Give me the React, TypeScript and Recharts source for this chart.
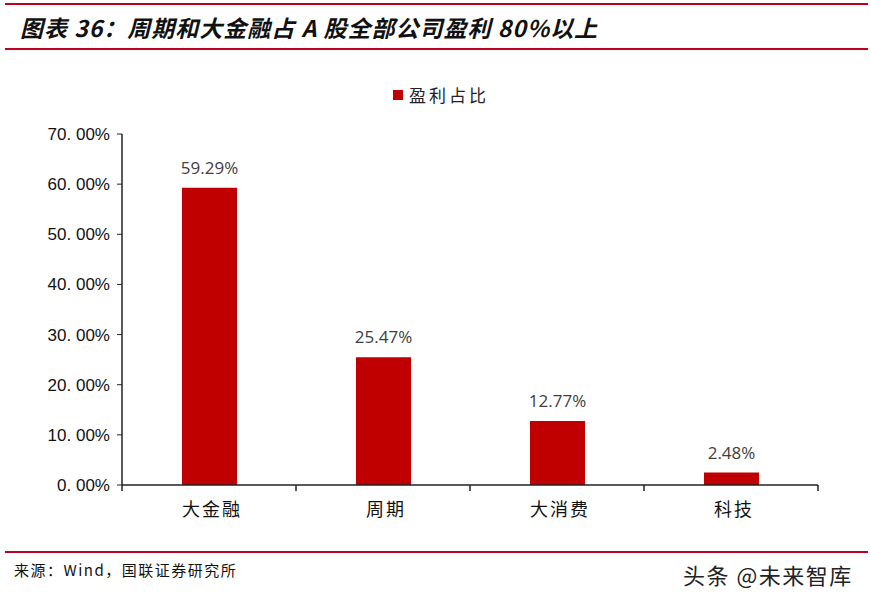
import { Bar, BarChart, LabelList, XAxis, YAxis } from 'recharts';

const CATEGORIES = ['大金融', '周期', '大消费', '科技'];
const SHARE = [59.29, 25.47, 12.77, 2.48];
const Y_TICKS = [0, 10, 20, 30, 40, 50, 60, 70];

const RED = '#C00000';
const LINE_RED = '#C0001F';
const CJK = '"Noto Sans CJK SC", "Noto Sans", sans-serif';

const data = CATEGORIES.map((name, i) => ({ name, share: SHARE[i] }));

const fmtAxis = (v: number) => `${v.toFixed(2).replace('.', '. ')}%`;

export default function App() {
  return (
    <div style={{ position: 'absolute', left: 0, top: 0, width: 870, height: 601, background: '#fff', overflow: 'hidden' }}>
      <div style={{ position: 'absolute', left: 5, top: 3, width: 863, height: 2, background: LINE_RED }} />
      <div
        style={{
          position: 'absolute', left: 20, top: 11, fontFamily: CJK, fontStyle: 'italic',
          fontWeight: 'bold', fontSize: 23, lineHeight: '32px', color: '#111', letterSpacing: 1,
        }}
      >
        图表 36：周期和大金融占 A 股全部公司盈利 80%以上
      </div>
      <div style={{ position: 'absolute', left: 5, top: 48, width: 863, height: 2, background: LINE_RED }} />

      {/* legend */}
      <div
        style={{
          position: 'absolute', left: 393, top: 83, display: 'flex', alignItems: 'center',
          fontFamily: CJK, fontSize: 17, lineHeight: '24px', color: '#222',
        }}
      >
        <span style={{ width: 10, height: 10, background: RED, display: 'inline-block', marginRight: 6 }} />
        <span style={{ letterSpacing: 3 }}>盈利占比</span>
      </div>

      <BarChart
        width={870}
        height={601}
        data={data}
        margin={{ top: 134, right: 52, bottom: 76, left: 12 }}
        barSize={55}
      >
        <YAxis
          width={110}
          domain={[0, 70]}
          ticks={Y_TICKS}
          tickFormatter={fmtAxis}
          axisLine={{ stroke: '#222', strokeWidth: 1.5 }}
          tickLine={{ stroke: '#222' }}
          tickSize={5}
          tickMargin={7}
          tick={{ fill: '#111', fontSize: 17, fontFamily: '"Liberation Sans", Arial, sans-serif' }}
        />
        <XAxis
          dataKey="name"
          height={40}
          axisLine={{ stroke: '#222', strokeWidth: 1.5 }}
          tickLine={false}
          tick={{ fill: '#111', fontSize: 18, fontFamily: CJK, letterSpacing: 2, dx: 3 }}
          tickMargin={12}
        />
        <Bar dataKey="share" fill={RED} isAnimationActive={false}>
          <LabelList
            dataKey="share"
            position="top"
            offset={14}
            formatter={(v: number) => `${v.toFixed(2)}%`}
            style={{ fill: '#404040', fontSize: 17, fontFamily: '"Open Sans", sans-serif' }}
          />
        </Bar>
      </BarChart>

      {/* category boundary ticks on the x axis */}
      <svg style={{ position: 'absolute', left: 0, top: 0 }} width={870} height={601} pointerEvents="none">
        {[0, 1, 2, 3, 4].map((i) => (
          <line key={i} x1={122 + i * 174} x2={122 + i * 174} y1={485} y2={491} stroke="#222" strokeWidth={1.5} />
        ))}
      </svg>

      <div style={{ position: 'absolute', left: 5, top: 551, width: 863, height: 2, background: LINE_RED }} />
      <div style={{ position: 'absolute', left: 14, top: 559, fontFamily: CJK, fontSize: 15, color: '#111', letterSpacing: 1.5 }}>
        来源：Wind，国联证券研究所
      </div>
      <div style={{ position: 'absolute', left: 683, top: 558, fontFamily: CJK, fontSize: 22, color: '#222', letterSpacing: 1.5 }}>
        头条 @未来智库
      </div>
    </div>
  );
}
